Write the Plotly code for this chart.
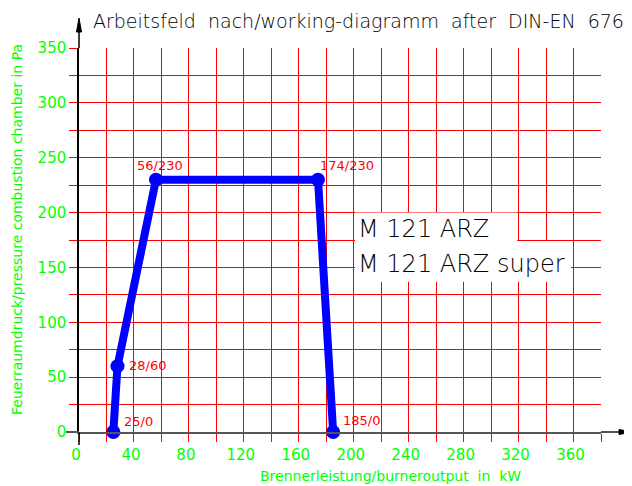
import plotly.graph_objects as go

# ---- data ----
burner_output = [25, 28, 56, 174, 185]          # kW
chamber_pressure = [0, 60, 230, 230, 0]         # Pa
point_labels = ["25/0", "28/60", "56/230", "174/230", "185/0"]
x_tick_values = [0, 40, 80, 120, 160, 200, 240, 280, 320, 360]
y_tick_values = [0, 50, 100, 150, 200, 250, 300, 350]
model_names = ["M 121 ARZ", "M 121 ARZ super"]

title_text = "Arbeitsfeld nach/working-diagramm after DIN-EN 676"
x_title = "Brennerleistung/burneroutput in kW"
y_title = "Feuerraumdruck/pressure combustion chamber in Pa"

# ---- styling ----
FONT = "DejaVu Sans"
GREEN = "#00ff00"
RED = "#ff0000"
BLUE = "#0000ff"
NB2 = "\u00a0\u00a0"
label_shifts = [(9, 11), (10, 1), (-21, 14), (0, 14), (8, 12)]

# page body has an 8px margin: figure is placed at (8, 8)
OFF = 8
W, H = 632 - OFF, 486 - OFF
PL, PT, PW, PH = 79 - OFF, 48 - OFF, 522, 384   # plot area in figure pixels


def px(xp):   # window pixel x -> paper
    return (xp - 79) / PW


def py(yp):   # window pixel y -> paper
    return (432 - yp) / PH


fig = go.Figure()
fig.add_trace(go.Scatter(
    x=burner_output, y=chamber_pressure, mode="lines+markers",
    line=dict(color=BLUE, width=8),
    marker=dict(color=BLUE, size=14),
    cliponaxis=False, showlegend=False, hoverinfo="skip"))

annotations = []
for xv, yv, txt, (dx, dy) in zip(burner_output, chamber_pressure, point_labels, label_shifts):
    annotations.append(dict(x=xv, y=yv, xref="x", yref="y", text=txt, showarrow=False,
                            xanchor="left", yanchor="middle", xshift=dx, yshift=dy,
                            font=dict(family=FONT, size=13, color=RED)))

legend_y = [185.3, 153.4]
for name, yv in zip(model_names, legend_y):
    annotations.append(dict(x=201.5, y=yv, xref="x", yref="y", text=name, showarrow=False,
                            xanchor="left", yanchor="middle",
                            font=dict(family=FONT, size=24, color="black", weight=300)))

annotations.append(dict(x=px(358.5), y=py(21), xref="paper", yref="paper",
                        text=title_text.replace(" ", NB2), showarrow=False,
                        xanchor="center", yanchor="middle",
                        font=dict(family=FONT, size=19, color="black", weight=300)))
annotations.append(dict(x=px(390), y=py(476), xref="paper", yref="paper",
                        text=x_title.replace(" in ", NB2 + "in" + NB2), showarrow=False,
                        xanchor="center", yanchor="middle",
                        font=dict(family=FONT, size=14, color=GREEN)))
annotations.append(dict(x=px(17), y=py(230), xref="paper", yref="paper",
                        text=y_title, showarrow=False, xanchor="center", yanchor="middle",
                        textangle=-90,
                        font=dict(family=FONT, size=14, color=GREEN)))

shapes = [
    # white boxes behind model names
    dict(type="rect", xref="x", yref="y", x0=201, x1=319, y0=173, y1=200,
         fillcolor="white", line=dict(width=0), layer="between"),
    dict(type="rect", xref="x", yref="y", x0=201, x1=358, y0=137, y1=174,
         fillcolor="white", line=dict(width=0), layer="between"),
    # y axis extensions + arrow
    dict(type="line", xref="paper", yref="paper", x0=0, x1=0, y0=py(445), y1=0.0,
         line=dict(color="black", width=1.5), layer="above"),
    dict(type="line", xref="paper", yref="paper", x0=0, x1=0, y0=1.0, y1=py(32),
         line=dict(color="black", width=1.5), layer="above"),
    dict(type="path", xref="paper", yref="paper",
         path=f"M {-2.5/PW},{py(32)} L 0,{py(18)} L {2.5/PW},{py(32)} Z",
         fillcolor="black", line=dict(color="black", width=1), layer="above"),
    # x axis extensions + arrow
    dict(type="line", xref="paper", yref="paper", x0=px(66), x1=0.0, y0=0, y1=0,
         line=dict(color="#555555", width=2), layer="above"),
    dict(type="line", xref="paper", yref="paper", x0=1.0, x1=px(620), y0=0, y1=0,
         line=dict(color="#555555", width=2), layer="above"),
    dict(type="path", xref="paper", yref="paper",
         path=f"M {px(619)},{2.5/PH} L {px(632)},0 L {px(619)},{-2.5/PH} Z",
         fillcolor="black", line=dict(color="black", width=1), layer="above"),
]

fig.update_layout(
    width=W, height=H,
    margin=dict(l=PL, r=W - PL - PW, t=PT, b=H - PT - PH, autoexpand=False),
    paper_bgcolor="white", plot_bgcolor="rgba(0,0,0,0)",
    annotations=annotations, shapes=shapes,
    xaxis=dict(range=[0, 380], tickmode="array", tickvals=x_tick_values,
               ticks="outside", ticklen=8, tickcolor=RED, tickwidth=1,
               showgrid=True, gridcolor=RED, gridwidth=1,
               minor=dict(dtick=20, tick0=0, ticks="outside", ticklen=8, tickcolor=RED,
                          showgrid=True, gridcolor=RED, gridwidth=1),
               showline=True, linecolor="#555555", linewidth=2, zeroline=False,
               ticklabelshift=-3,
               tickfont=dict(family=FONT, size=15, color=GREEN)),
    yaxis=dict(range=[0, 350], tickmode="array", tickvals=y_tick_values,
               ticks="outside", ticklen=8, tickcolor=RED, tickwidth=1,
               showgrid=True, gridcolor=RED, gridwidth=1,
               minor=dict(dtick=25, tick0=0, ticks="outside", ticklen=8, tickcolor=RED,
                          showgrid=True, gridcolor=RED, gridwidth=1),
               showline=True, linecolor="black", linewidth=1.5, zeroline=False,
               tickfont=dict(family=FONT, size=15, color=GREEN)),
)

fig.write_html("out.html")
